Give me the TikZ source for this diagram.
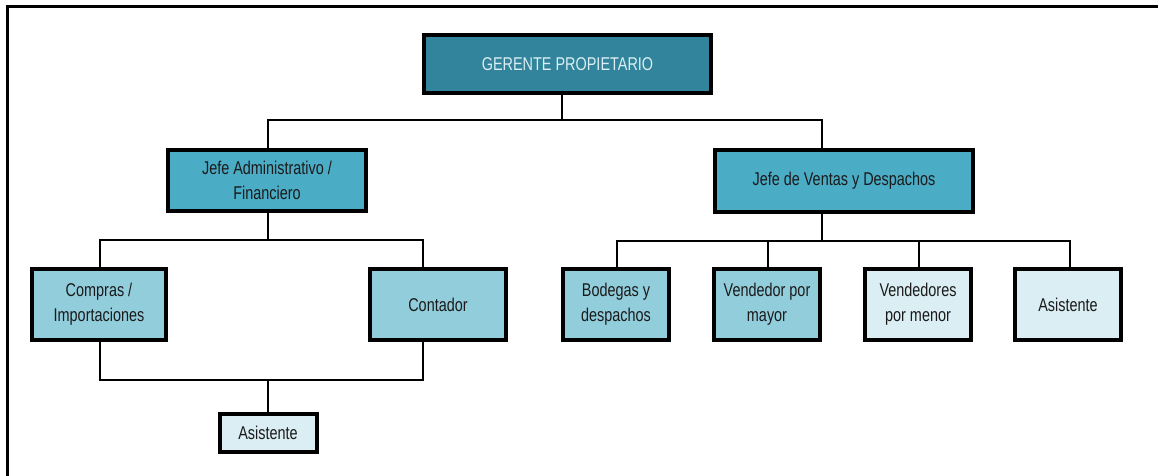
\documentclass[tikz,border=0pt]{standalone}
\usepackage{fontspec}
\setmainfont{Liberation Sans}[FakeStretch=0.78]
\definecolor{cTeal}{HTML}{31849B}
\definecolor{cMid}{HTML}{4BACC6}
\definecolor{cLight}{HTML}{92CDDC}
\definecolor{cPale}{HTML}{DAEEF3}
\definecolor{cText}{HTML}{1A1A1A}
\tikzset{
  orgbox/.style={draw=black, line width=4pt, rectangle, align=center, inner sep=2pt,
    text=cText, font=\fontsize{18.5}{25}\selectfont},
  conn/.style={draw=black, line width=2.5pt},
  frameline/.style={draw=black, line width=3pt}
}
\begin{document}
\begin{tikzpicture}[x=1pt,y=-1pt]
\useasboundingbox (0,0) rectangle (1158,476);
% frame
\coordinate (fr1) at (7,476);
\coordinate (fr2) at (7,7);
\coordinate (fr3) at (1158,7);
\draw[frameline] (fr1) -- (fr2) -- (fr3);
% nodes
\node[orgbox, fill=cTeal, text=cPale, minimum width=287pt, minimum height=58pt] (ger) at (567.5,64) {GERENTE PROPIETARIO};
\node[orgbox, fill=cMid, minimum width=198pt, minimum height=61pt] (adm) at (267,180.5) {Jefe Administrativo /\\Financiero};
\node[orgbox, fill=cMid, minimum width=258pt, minimum height=62pt] (ven) at (844,181) {Jefe de Ventas y Despachos};
\node[orgbox, fill=cLight, minimum width=134pt, minimum height=71pt] (com) at (99,304.5) {Compras /\\Importaciones};
\node[orgbox, fill=cLight, minimum width=136pt, minimum height=71pt] (con) at (438,304.5) {Contador};
\node[orgbox, fill=cPale, minimum width=97pt, minimum height=38pt] (asl) at (268,433) {Asistente};
\node[orgbox, fill=cLight, minimum width=106pt, minimum height=71pt] (bod) at (616,304.5) {Bodegas y\\despachos};
\node[orgbox, fill=cLight, minimum width=106pt, minimum height=71pt] (vma) at (767,304.5) {Vendedor por\\mayor};
\node[orgbox, fill=cPale, minimum width=106pt, minimum height=71pt] (vme) at (918,304.5) {Vendedores\\por menor};
\node[orgbox, fill=cPale, minimum width=106pt, minimum height=71pt] (asr) at (1068,304.5) {Asistente};
% top bus
\coordinate (b1) at (562,120);
\draw[conn] ([xshift=-5.5pt]ger.south) -- (b1);
\draw[conn] ([xshift=1pt]adm.north) |- (b1) -| ([xshift=-22pt]ven.north);
% left bus
\coordinate (b2) at (268,240);
\draw[conn] ([xshift=1pt]adm.south) -- (b2);
\draw[conn] ([xshift=1pt]com.north) |- (b2) -| ([xshift=-15pt]con.north);
% bottom bus
\coordinate (b3) at (268,380);
\draw[conn] ([xshift=1pt]com.south) |- (b3) -| ([xshift=-15pt]con.south);
\draw[conn] (b3) -- (asl.north);
% right bus
\coordinate (b4) at (822,241);
\draw[conn] ([xshift=-22pt]ven.south) -- (b4);
\draw[conn] ([xshift=1pt]bod.north) |- (b4) -| ([xshift=2pt]asr.north);
\draw[conn] ([xshift=1pt]vma.north) -- ([xshift=1pt]vma.north |- b4);
\draw[conn] ([xshift=1pt]vme.north) -- ([xshift=1pt]vme.north |- b4);
\end{tikzpicture}
\end{document}
